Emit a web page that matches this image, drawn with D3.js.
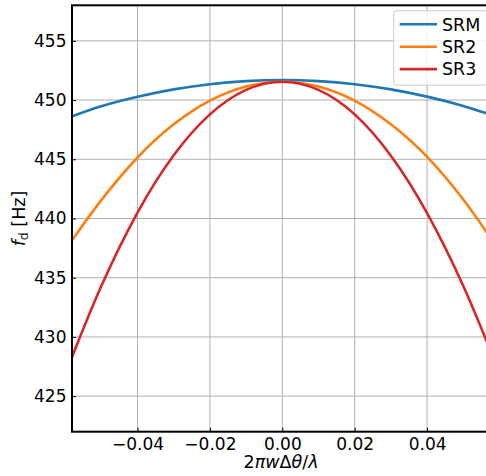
<!DOCTYPE html>
<html>
<head>
<meta charset="utf-8">
<script src="https://cdn.jsdelivr.net/npm/d3@7"></script>
<style>
  html, body { margin: 0; padding: 0; background: #fff; }
  svg { display: block; font-family: "DejaVu Sans", sans-serif; }
</style>
</head>
<body>
<svg id="chart" width="486" height="476"></svg>
<script>
// ---- data ----
const xValues = [-0.0581, -0.05, -0.04, -0.03, -0.02, -0.01, 0.0, 0.01, 0.02, 0.03, 0.04, 0.05, 0.0581];
const srmValues = [448.63, 449.48, 450.28, 450.90, 451.34, 451.60, 451.69, 451.60, 451.34, 450.90, 450.29, 449.50, 448.70];
const sr2Values = [438.15, 441.55, 445.15, 447.95, 449.95, 451.15, 451.55, 451.15, 449.95, 447.95, 445.20, 441.60, 438.10];
const sr3Values = [428.30, 434.30, 440.50, 445.34, 448.79, 450.86, 451.55, 450.86, 448.79, 445.30, 440.45, 434.30, 428.40];
const seriesNames = ["SRM", "SR2", "SR3"];
const seriesColors = ["#1f77b4", "#ff7f0e", "#d62728"];
const xTicks = [-0.04, -0.02, 0.0, 0.02, 0.04];
const yTicks = [425, 430, 435, 440, 445, 450, 455];
const xDomain = [-0.0581, 0.0581];
const yDomain = [422, 458];

const series = [srmValues, sr2Values, sr3Values].map((vals, i) => ({
  name: seriesNames[i], color: seriesColors[i],
  points: xValues.map((xv, j) => ({ x: xv, y: vals[j] }))
}));

// ---- layout ----
const svg = d3.select("#chart");
const pL = 72, pT = 5.3, pB = 431.7, pR = 492.6;
const x = d3.scaleLinear().domain(xDomain).range([pL, pR]);
const y = d3.scaleLinear().domain(yDomain).range([pB, pT]);

svg.append("defs").append("clipPath").attr("id", "clip")
  .append("rect").attr("x", pL).attr("y", pT)
  .attr("width", pR - pL).attr("height", pB - pT);

// grid
const grid = svg.append("g");
grid.selectAll(".gx").data(xTicks).join("line")
  .attr("x1", d => x(d)).attr("x2", d => x(d))
  .attr("y1", pT).attr("y2", pB)
  .attr("stroke", "#b0b0b0").attr("stroke-width", 1);
grid.selectAll(".gy").data(yTicks).join("line")
  .attr("y1", d => y(d)).attr("y2", d => y(d))
  .attr("x1", pL).attr("x2", pR)
  .attr("stroke", "#b0b0b0").attr("stroke-width", 1);

// lines
const line = d3.line().x(d => x(d.x)).y(d => y(d.y)).curve(d3.curveNatural);
svg.append("g").attr("clip-path", "url(#clip)")
  .selectAll("path").data(series).join("path")
  .attr("d", d => line(d.points))
  .attr("fill", "none")
  .attr("stroke", d => d.color)
  .attr("stroke-width", 2.6);

// axes (ticks inward)
const fmt = d => d3.format(".2f")(d).replace("-", "\u2212");
const xAxis = d3.axisBottom(x).tickValues(xTicks).tickFormat(fmt).tickSizeInner(-4).tickSizeOuter(0).tickPadding(6);
const yAxis = d3.axisLeft(y).tickValues(yTicks).tickFormat(d3.format("d")).tickSizeInner(-4).tickSizeOuter(0).tickPadding(9);

const gx = svg.append("g").attr("transform", `translate(0,${pB})`).call(xAxis);
const gy = svg.append("g").attr("transform", `translate(${pL},0)`).call(yAxis);
[gx, gy].forEach(g => {
  g.select(".domain").remove();
  g.selectAll(".tick line").attr("stroke", "#000").attr("stroke-width", 1);
  g.selectAll(".tick text").attr("fill", "#000").attr("font-size", "17px")
    .attr("font-family", "DejaVu Sans, sans-serif");
});
gx.selectAll(".tick text").attr("dy", "0.71em");
gy.selectAll(".tick text").attr("x", -5.5);

// spines
svg.append("rect").attr("x", pL).attr("y", pT)
  .attr("width", pR - pL).attr("height", pB - pT)
  .attr("fill", "none").attr("stroke", "#000").attr("stroke-width", 2);

// axis labels
svg.append("text")
  .attr("x", 281).attr("y", 468)
  .attr("text-anchor", "middle").attr("font-size", "17.5px").attr("fill", "#000")
  .html('2<tspan font-style="italic">πw</tspan>Δ<tspan font-style="italic">θ</tspan>/<tspan font-style="italic">λ</tspan>');

const yl = svg.append("text")
  .attr("transform", `translate(25,${(pT + pB) / 2}) rotate(-90)`)
  .attr("text-anchor", "middle").attr("font-size", "17.5px").attr("fill", "#000");
yl.append("tspan").attr("font-style", "italic").text("f");
yl.append("tspan").attr("font-size", "12.5px").attr("dy", "3").text("d");
yl.append("tspan").attr("dy", "-3").text(" [Hz]");

// legend
const lg = svg.append("g");
lg.append("rect").attr("x", 393.7).attr("y", 10.7).attr("width", 94).attr("height", 74.5)
  .attr("rx", 3).attr("fill", "#fff").attr("fill-opacity", 0.8)
  .attr("stroke", "#cccccc").attr("stroke-width", 1);
series.forEach((s, i) => {
  const yy = 24.3 + i * 22.4;
  lg.append("line").attr("x1", 399.7).attr("x2", 437).attr("y1", yy).attr("y2", yy)
    .attr("stroke", s.color).attr("stroke-width", 2.6);
  lg.append("text").attr("x", 442).attr("y", yy + 6.2).attr("font-size", "17.5px")
    .attr("fill", "#000").text(s.name);
});
</script>
</body>
</html>
